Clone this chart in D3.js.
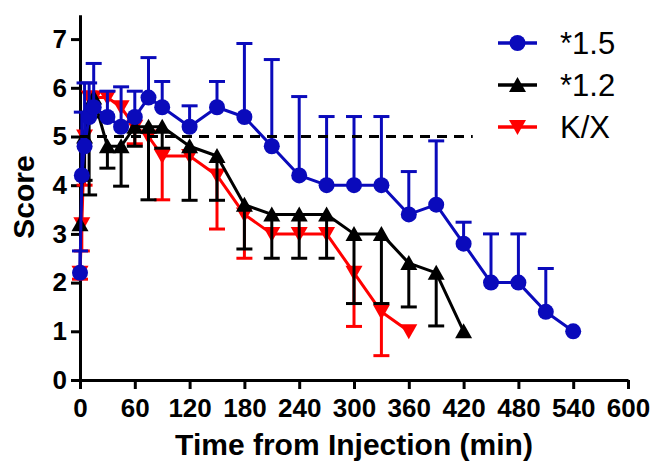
<!DOCTYPE html>
<html lang="en">
<head>
<meta charset="UTF-8">
<title>Score vs time from injection</title>
<style>
  body { margin: 0; background: #fff; }
  svg { display: block; }
  text { font-family: Arial, "Liberation Sans", sans-serif; }
</style>
</head>
<body>
<svg id="chart" width="656" height="465"></svg>
<script src="https://cdnjs.cloudflare.com/ajax/libs/d3/7.8.5/d3.min.js"></script>
<script>
// *1.5 group (error bars drawn upward)
let timeA = [0, 2, 5, 10, 15, 30, 45, 60, 75, 90, 120, 150, 180, 210, 240, 270, 300, 330, 360, 390, 420, 450, 480, 510, 540];
let meanA = [2.2, 4.2, 4.8, 5.4, 5.6, 5.4, 5.2, 5.4, 5.8, 5.6, 5.2, 5.6, 5.4, 4.8, 4.2, 4.0, 4.0, 4.0, 3.4, 3.6, 2.8, 2.0, 2.0, 1.4, 1.0];
let errA  = [0.45, 1.3, 1.3, 0.7, 0.9, 0.53, 0.82, 0.53, 0.82, 0.53, 0.43, 0.53, 1.51, 1.78, 1.62, 1.41, 1.41, 1.41, 0.88, 1.31, 0.44, 1.0, 1.0, 0.89, 0];

// *1.2 group (error bars drawn downward)
let timeB = [0, 5, 10, 15, 30, 45, 60, 75, 90, 120, 150, 180, 210, 240, 270, 300, 330, 360, 390, 420];
let meanB = [3.2, 5.0, 5.6, 5.8, 4.8, 4.8, 5.2, 5.2, 5.2, 4.8, 4.6, 3.6, 3.4, 3.4, 3.4, 3.0, 3.0, 2.4, 2.2, 1.0];
let errB  = [0, 0.9, 1.8, 0.4, 0.45, 0.82, 0.4, 1.5, 0.44, 1.11, 0.91, 0.91, 0.9, 0.9, 0.9, 1.43, 1.43, 0.9, 1.09, 0];

// K/X group (error bars drawn downward)
let timeC = [0, 2, 5, 10, 15, 30, 45, 60, 75, 90, 120, 150, 180, 210, 240, 270, 300, 330, 360];
let meanC = [2.2, 3.2, 5.0, 5.8, 5.8, 5.8, 5.6, 5.2, 5.0, 4.6, 4.6, 4.2, 3.4, 3.0, 3.0, 3.0, 2.2, 1.4, 1.0];
let errC  = [0.13, 0.55, 1.0, 0, 0, 0, 0, 0.35, 0, 0.9, 0, 1.1, 0.9, 0, 0, 0, 1.1, 0.9, 0];

let xTicks = [0, 60, 120, 180, 240, 300, 360, 420, 480, 540, 600];
let yTicks = [0, 1, 2, 3, 4, 5, 6, 7];
let threshold = 5;          // dashed reference line
let thresholdEnd = 430;

let seriesNames = ["*1.5", "*1.2", "K/X"];

let svg = d3.select("#chart");

let x = d3.scaleLinear().domain([0, 600]).range([80, 628]);
let y = d3.scaleLinear().domain([0, 7.5]).range([380, 14.75]);

let blue = "#0a0abb", red = "#ff0000", black = "#000000";

let groups = [
  { name: seriesNames[0], t: timeA, m: meanA, e: errA, dir: 1,  color: blue,  shape: "circle" },
  { name: seriesNames[1], t: timeB, m: meanB, e: errB, dir: -1, color: black, shape: "up" },
  { name: seriesNames[2], t: timeC, m: meanC, e: errC, dir: -1, color: red,   shape: "down" }
];

function marker(sel, shape, color) {
  if (shape == "circle") {
    sel.append("circle").attr("r", 8).attr("fill", color);
  } else if (shape == "up") {
    sel.append("path").attr("d", "M0,-8L8.5,7L-8.5,7Z").attr("fill", color);
  } else {
    sel.append("path").attr("d", "M0,8L8.5,-7L-8.5,-7Z").attr("fill", color);
  }
}

// axes
let yAxis = svg.append("g")
    .attr("transform", "translate(80,0)")
    .call(d3.axisLeft(y).tickValues(yTicks).tickSize(9).tickSizeOuter(0).tickPadding(4));
let xAxis = svg.append("g")
    .attr("transform", "translate(0,380)")
    .call(d3.axisBottom(x).tickValues(xTicks).tickSize(9).tickSizeOuter(0).tickPadding(10));

[xAxis, yAxis].forEach(a => {
  a.select(".domain").attr("stroke", "#000").attr("stroke-width", 3);
  a.selectAll(".tick line").attr("stroke", "#000").attr("stroke-width", 3);
  a.selectAll(".tick text")
    .attr("fill", "#000")
    .style("font-size", "26px")
    .style("font-weight", "bold")
    .style("font-family", "Arial, 'Liberation Sans', sans-serif");
});

// draw K/X first, then *1.2, then *1.5 on top
let order = [groups[2], groups[1], groups[0]];

order.forEach(g => {
  let pts = g.t.map((t, i) => ({ t: t, m: g.m[i], e: g.e[i] }));
  let layer = svg.append("g");

  let bars = layer.selectAll("g.bar").data(pts.filter(d => d.e > 0)).enter().append("g");
  bars.append("line")
    .attr("x1", d => x(d.t)).attr("x2", d => x(d.t))
    .attr("y1", d => y(d.m)).attr("y2", d => y(d.m + g.dir * d.e))
    .attr("stroke", g.color).attr("stroke-width", 3);
  bars.append("line")
    .attr("x1", d => x(d.t) - 8).attr("x2", d => x(d.t) + 8)
    .attr("y1", d => y(d.m + g.dir * d.e)).attr("y2", d => y(d.m + g.dir * d.e))
    .attr("stroke", g.color).attr("stroke-width", 3);

  let line = d3.line().x(d => x(d.t)).y(d => y(d.m));
  layer.append("path")
    .datum(pts)
    .attr("fill", "none")
    .attr("stroke", g.color)
    .attr("stroke-width", 3)
    .attr("stroke-linejoin", "round")
    .attr("d", line);

  layer.selectAll("g.pt").data(pts).enter().append("g")
    .attr("transform", d => "translate(" + x(d.t) + "," + y(d.m) + ")")
    .each(function() { marker(d3.select(this), g.shape, g.color); });
});

// dashed line at score 5
svg.append("line")
  .attr("x1", x(0)).attr("x2", x(thresholdEnd))
  .attr("y1", y(threshold)).attr("y2", y(threshold))
  .attr("stroke", "#000").attr("stroke-width", 3)
  .attr("stroke-dasharray", "10,7");

// axis titles
svg.append("text")
  .attr("x", 354).attr("y", 455)
  .attr("text-anchor", "middle")
  .style("font-size", "30px").style("font-weight", "bold")
  .text("Time from Injection (min)");

svg.append("text")
  .attr("transform", "translate(34,197) rotate(-90)")
  .attr("text-anchor", "middle")
  .style("font-size", "30px").style("font-weight", "bold")
  .text("Score");

// legend
let legendY = [43, 85, 127];
let legend = svg.append("g");
groups.forEach((g, i) => {
  let row = legend.append("g").attr("transform", "translate(0," + legendY[i] + ")");
  row.append("line").attr("x1", 498).attr("x2", 537).attr("y1", 0).attr("y2", 0)
    .attr("stroke", g.color).attr("stroke-width", 3.5);
  let m = row.append("g").attr("transform", "translate(517.5,0)");
  marker(m, g.shape, g.color);
  row.append("text").attr("x", 560).attr("y", 11)
    .style("font-size", "31px")
    .text(g.name);
});
</script>
</body>
</html>
